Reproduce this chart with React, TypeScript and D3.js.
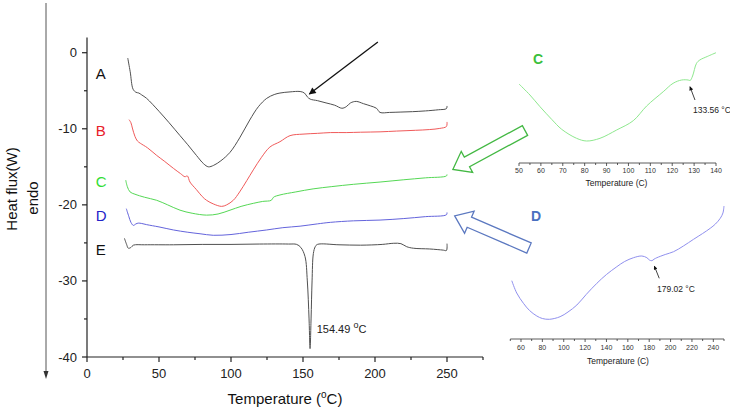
import React from 'react';
import * as d3 from 'd3';

// DSC traces of samples A-E: [temperature (°C), heat flux (W)]
const traceA: [number, number][] = [
  [28.3, -0.7], [30, -2.5], [32, -4.8], [34, -5.2], [36, -5.3], [38, -5.55], [41.4, -6.0], [50, -7.7],
  [57, -9.2], [64.6, -10.9], [70, -12.1], [76, -13.5], [81, -14.6], [84.3, -15.0], [88, -14.8],
  [93, -14.2], [99.3, -13.1], [106, -11.2], [113, -8.85], [119, -7.1], [124.8, -6.0], [130, -5.5],
  [134, -5.3], [141, -5.15], [148, -5.1], [151, -5.3], [153, -5.8], [155, -6.1], [160, -6.3],
  [166, -6.6], [172, -6.9], [177, -7.3], [180, -7.1], [183, -6.6], [187, -6.4], [192, -6.7],
  [197, -7.0], [201, -7.3], [203.5, -7.85], [210, -7.85], [218, -7.8], [226, -7.75], [235, -7.65],
  [244, -7.5], [249.6, -7.35], [250, -7.0],
];
const traceB: [number, number][] = [
  [29.2, -8.8], [30.5, -9.2], [31.5, -9.9], [33.3, -11.0], [35, -11.6], [37, -11.9], [42, -12.5],
  [48.4, -13.5], [54, -14.3], [60, -15.2], [65, -15.9], [68, -16.3], [69.7, -16.2], [71.5, -17.0],
  [76, -18.0], [80, -18.9], [83, -19.4], [88, -19.9], [93.5, -20.2], [97, -20.0], [101.6, -19.4],
  [106, -18.3], [111, -16.8], [115.5, -15.4], [121, -13.8], [127, -12.4], [134, -11.7], [141, -10.9],
  [150, -10.7], [160, -10.6], [169, -10.5], [180, -10.5], [190, -10.45], [203.5, -10.4], [215, -10.3],
  [228, -10.2], [238, -10.1], [245, -9.95], [249.6, -9.7], [250, -9.1],
];
const traceC: [number, number][] = [
  [26.9, -16.75], [28, -17.6], [29.9, -18.3], [33.3, -18.6], [40, -19.0], [48.4, -19.4], [56, -20.0],
  [64.6, -20.7], [73, -21.1], [83, -21.35], [91, -21.2], [99.3, -20.7], [107, -20.2], [115.5, -19.8],
  [122, -19.55], [128, -19.4], [129.5, -19.0], [134, -18.7], [145, -18.3], [157, -17.9], [170, -17.6],
  [185, -17.3], [203.5, -17.0], [220, -16.7], [235, -16.45], [249.6, -16.2], [250, -16.0],
];
const traceD: [number, number][] = [
  [27.3, -20.5], [29, -21.5], [30.5, -22.3], [32.2, -22.7], [34, -22.5], [35.6, -22.4], [38, -22.45],
  [41.4, -22.6], [50, -22.9], [60, -23.3], [70, -23.6], [78.5, -23.8], [87.7, -24.0], [100, -23.9],
  [112, -23.6], [124.8, -23.3], [136, -23.0], [148, -22.8], [160, -22.5], [169, -22.3], [185, -22.1],
  [203.5, -22.0], [220, -21.8], [235, -21.55], [249.6, -21.3], [250, -21.0],
];
const traceE: [number, number][] = [
  [26, -24.4], [27.5, -25.2], [28.7, -25.7], [30.5, -25.6], [32.2, -25.3], [40, -25.25], [60, -25.25],
  [80, -25.2], [100, -25.2], [120, -25.15], [140, -25.15], [145.6, -25.2], [148.5, -25.6], [151.4, -26.8],
  [153, -30], [154.2, -35], [154.9, -38.9], [155.6, -35], [156.3, -30], [157.2, -26.4], [158.5, -25.5],
  [160, -25.2], [175, -25.25], [190, -25.3], [205, -25.2], [213, -25.05], [218, -25.1], [222, -25.5],
  [226.6, -25.7], [238, -25.8], [247.4, -25.95], [249.6, -26.0], [250, -25.1],
];
const seriesNames = ['A', 'B', 'C', 'D', 'E'];

// zoomed traces (arbitrary heat-flow units)
const insetC: [number, number][] = [
  [50, 7.9], [55, 6.8], [59.6, 5.63], [65, 4.35], [69.5, 3.37], [76.3, 2.47], [80.9, 2.2], [87, 2.47],
  [94.6, 3.3], [102.2, 4.23], [108.3, 5.7], [115.9, 7.13], [120.4, 7.97], [124.3, 8.3], [127.3, 8.3],
  [128.2, 8.25], [129.3, 8.7], [131.1, 9.97], [132.6, 10.3], [136, 10.65], [140, 11.03],
];
const insetD: [number, number][] = [
  [51.4, 5.83], [56, 4.6], [62.3, 3.57], [68, 2.85], [74.8, 2.3], [80, 2.05], [86.6, 1.97], [96.6, 2.23],
  [104, 2.7], [112.3, 3.4], [121, 4.45], [131, 5.57], [140, 6.45], [149.7, 7.23], [157, 7.75],
  [165.3, 8.13], [173.1, 8.3], [177.8, 8.13], [180.2, 7.9], [182.5, 7.83], [184.5, 7.98], [187.2, 8.13],
  [195, 8.45], [202.8, 8.73], [212, 9.3], [221.5, 9.97], [230, 10.55], [237.1, 11.07], [242, 11.5],
  [246.5, 12.07], [249, 12.6], [250, 13.3],
];

const mainXTicks = [0, 50, 100, 150, 200, 250];
const mainXMinor = [25, 75, 125, 175, 225, 275];
const mainYTicks = [0, -10, -20, -30, -40];
const mainYMinor = [-5, -15, -25, -35];
const insetCTicks = [50, 60, 70, 80, 90, 100, 110, 120, 130, 140];
const insetCMinor = [55, 65, 75, 85, 95, 105, 115, 125, 135];
const insetDTicks = [60, 80, 100, 120, 140, 160, 180, 200, 220, 240];
const insetDMinor = [50, 70, 90, 110, 130, 150, 170, 190, 210, 230, 250];

const FONT = '"Liberation Sans", Arial, sans-serif';
const colors = ['#505050', '#f05a5a', '#55d855', '#6464dc', '#505050'];
const labelColors = ['#111', '#e8202a', '#33dd33', '#2323c8', '#111'];

function HollowArrow({ x0, y0, angle, len, color }: any) {
  const h = 16, hw = 12, sw = 5.5;
  const pts = [[0, -sw], [len - h, -sw], [len - h, -hw], [len, 0], [len - h, hw], [len - h, sw], [0, sw]];
  return (
    <polygon
      points={pts.map((p) => p.join(',')).join(' ')}
      transform={`translate(${x0},${y0}) rotate(${angle})`}
      fill="white"
      stroke={color}
      strokeWidth={1.3}
    />
  );
}

export default function App() {
  const x = d3.scaleLinear().domain([0, 275]).range([87, 483]);
  const y = d3.scaleLinear().domain([-40, 2]).range([357, 37.5]);
  const curve = d3.curveCatmullRom.alpha(0.5);
  const line = d3
    .line<[number, number]>()
    .x((d) => x(d[0]))
    .y((d) => y(d[1]))
    .curve(curve);
  const traces = [traceA, traceB, traceC, traceD, traceE];
  const labelFlux = [-3.46, -10.96, -17.67, -22.14, -26.6];

  const cx = d3.scaleLinear().domain([50, 140]).range([519, 716]);
  const cy = d3.scaleLinear().domain([0, 12]).range([163, 43]);
  const lineC = d3.line<[number, number]>().x((d) => cx(d[0])).y((d) => cy(d[1])).curve(curve);

  const dx = d3.scaleLinear().domain([50, 250]).range([510.3, 724]);
  const dy = d3.scaleLinear().domain([0, 15]).range([339, 189]);
  const lineD = d3.line<[number, number]>().x((d) => dx(d[0])).y((d) => dy(d[1])).curve(curve);

  const ax0 = 357; // main x-axis baseline
  const ay0 = x(0);

  return (
    <svg width={730} height={410} style={{ position: 'absolute', left: 0, top: 0, background: '#fff' }} fontFamily={FONT}>
      <defs>
        <marker id="head" viewBox="0 0 10 10" refX="9" refY="5" markerWidth="9" markerHeight="7" orient="auto" markerUnits="userSpaceOnUse">
          <path d="M0,0 L10,5 L0,10 z" fill="#111" />
        </marker>
        <marker id="headSmall" viewBox="0 0 10 10" refX="9" refY="5" markerWidth="5" markerHeight="4" orient="auto" markerUnits="userSpaceOnUse">
          <path d="M0,0 L10,5 L0,10 z" fill="#111" />
        </marker>
      </defs>

      {/* endo direction arrow */}
      <line x1={46} y1={3} x2={46} y2={372} stroke="#555" strokeWidth={1} />
      <path d="M43.5,371 L48.5,371 L46,379 z" fill="#333" />

      {/* y-axis title */}
      <text transform="translate(17,189) rotate(-90)" textAnchor="middle" fontSize={15} fill="#111">Heat flux(W)</text>
      <text transform="translate(38,198) rotate(-90)" textAnchor="middle" fontSize={15} fill="#111">endo</text>

      {/* main axes */}
      <line x1={ay0} y1={y(2)} x2={ay0} y2={ax0} stroke="#222" strokeWidth={1.2} />
      <line x1={ay0} y1={ax0} x2={x(275)} y2={ax0} stroke="#222" strokeWidth={1.2} />
      {mainYTicks.map((t) => (
        <g key={'yt' + t}>
          <line x1={ay0 - 5} x2={ay0} y1={y(t)} y2={y(t)} stroke="#222" strokeWidth={1.2} />
          <text x={77} y={y(t)} dy="0.35em" textAnchor="end" fontSize={13} fill="#222">{t}</text>
        </g>
      ))}
      {mainYMinor.map((t) => (
        <line key={'ym' + t} x1={ay0 - 3} x2={ay0} y1={y(t)} y2={y(t)} stroke="#222" strokeWidth={1.2} />
      ))}
      {mainXTicks.map((t) => (
        <g key={'xt' + t}>
          <line x1={x(t)} x2={x(t)} y1={ax0} y2={ax0 + 5} stroke="#222" strokeWidth={1.2} />
          <text x={x(t)} y={378} textAnchor="middle" fontSize={13} fill="#222">{t}</text>
        </g>
      ))}
      {mainXMinor.map((t) => (
        <line key={'xm' + t} x1={x(t)} x2={x(t)} y1={ax0} y2={ax0 + 3} stroke="#222" strokeWidth={1.2} />
      ))}
      <text x={285} y={404} textAnchor="middle" fontSize={15} fill="#111">
        Temperature (<tspan fontSize={10} dy={-6}>o</tspan><tspan dy={6}>C)</tspan>
      </text>

      {/* traces */}
      {traces.map((tr, i) => (
        <path key={seriesNames[i]} d={line(tr) || ''} fill="none" stroke={colors[i]} strokeWidth={1} />
      ))}
      {seriesNames.map((n, i) => (
        <text key={'lab' + n} x={x(6)} y={y(labelFlux[i])} fontSize={15} fill={labelColors[i]}>{n}</text>
      ))}

      {/* annotations on main plot */}
      <line x1={x(202)} y1={y(1.4)} x2={x(154.4)} y2={y(-5.43)} stroke="#111" strokeWidth={1.3} markerEnd="url(#head)" />
      <text x={x(159.5)} y={y(-36.9)} fontSize={11} fill="#222">
        154.49 <tspan fontSize={9} dy={-5}>o</tspan><tspan dy={5}>C</tspan>
      </text>

      <HollowArrow x0={525} y0={130.5} angle={151.6} len={82} color="#43b843" />
      <HollowArrow x0={529} y0={248} angle={203.4} len={81} color="#5b78c0" />

      {/* inset C */}
      <path d={lineC(insetC) || ''} fill="none" stroke="#8ee88e" strokeWidth={1} />
      <line x1={cx(50)} x2={cx(140)} y1={cy(0)} y2={cy(0)} stroke="#333" strokeWidth={0.8} />
      {insetCTicks.map((t) => (
        <g key={'ct' + t}>
          <line x1={cx(t)} x2={cx(t)} y1={cy(0)} y2={cy(0) + 3} stroke="#333" strokeWidth={0.8} />
          <text x={cx(t)} y={173} textAnchor="middle" fontSize={7} fill="#333">{t}</text>
        </g>
      ))}
      {insetCMinor.map((t) => (
        <line key={'cm' + t} x1={cx(t)} x2={cx(t)} y1={cy(0)} y2={cy(0) + 2} stroke="#333" strokeWidth={0.8} />
      ))}
      <text x={616.5} y={186} textAnchor="middle" fontSize={8.5} fill="#222">Temperature (C)</text>
      <text x={533} y={64} fontSize={14} fontWeight="bold" fill="#3bbf3b">C</text>
      <line x1={cx(130.4)} y1={cy(6.3)} x2={cx(128.1)} y2={cy(7.63)} stroke="#111" strokeWidth={0.8} markerEnd="url(#headSmall)" />
      <text x={693} y={112.5} fontSize={8.5} fill="#222">133.56 °C</text>

      {/* inset D */}
      <path d={lineD(insetD) || ''} fill="none" stroke="#9090ee" strokeWidth={1} />
      <line x1={dx(50)} x2={dx(250)} y1={dy(0)} y2={dy(0)} stroke="#333" strokeWidth={0.8} />
      {insetDTicks.map((t) => (
        <g key={'dt' + t}>
          <line x1={dx(t)} x2={dx(t)} y1={dy(0)} y2={dy(0) + 3} stroke="#333" strokeWidth={0.8} />
          <text x={dx(t)} y={350} textAnchor="middle" fontSize={7} fill="#333">{t}</text>
        </g>
      ))}
      {insetDMinor.map((t) => (
        <line key={'dm' + t} x1={dx(t)} x2={dx(t)} y1={dy(0)} y2={dy(0) + 2} stroke="#333" strokeWidth={0.8} />
      ))}
      <text x={618} y={364} textAnchor="middle" fontSize={8.5} fill="#222">Temperature (C)</text>
      <text x={531} y={221} fontSize={14} fontWeight="bold" fill="#4a6fc0">D</text>
      <line x1={dx(189.4)} y1={dy(6.07)} x2={dx(184.8)} y2={dy(7.3)} stroke="#111" strokeWidth={0.8} markerEnd="url(#headSmall)" />
      <text x={657} y={291.5} fontSize={8.5} fill="#222">179.02 °C</text>
    </svg>
  );
}
